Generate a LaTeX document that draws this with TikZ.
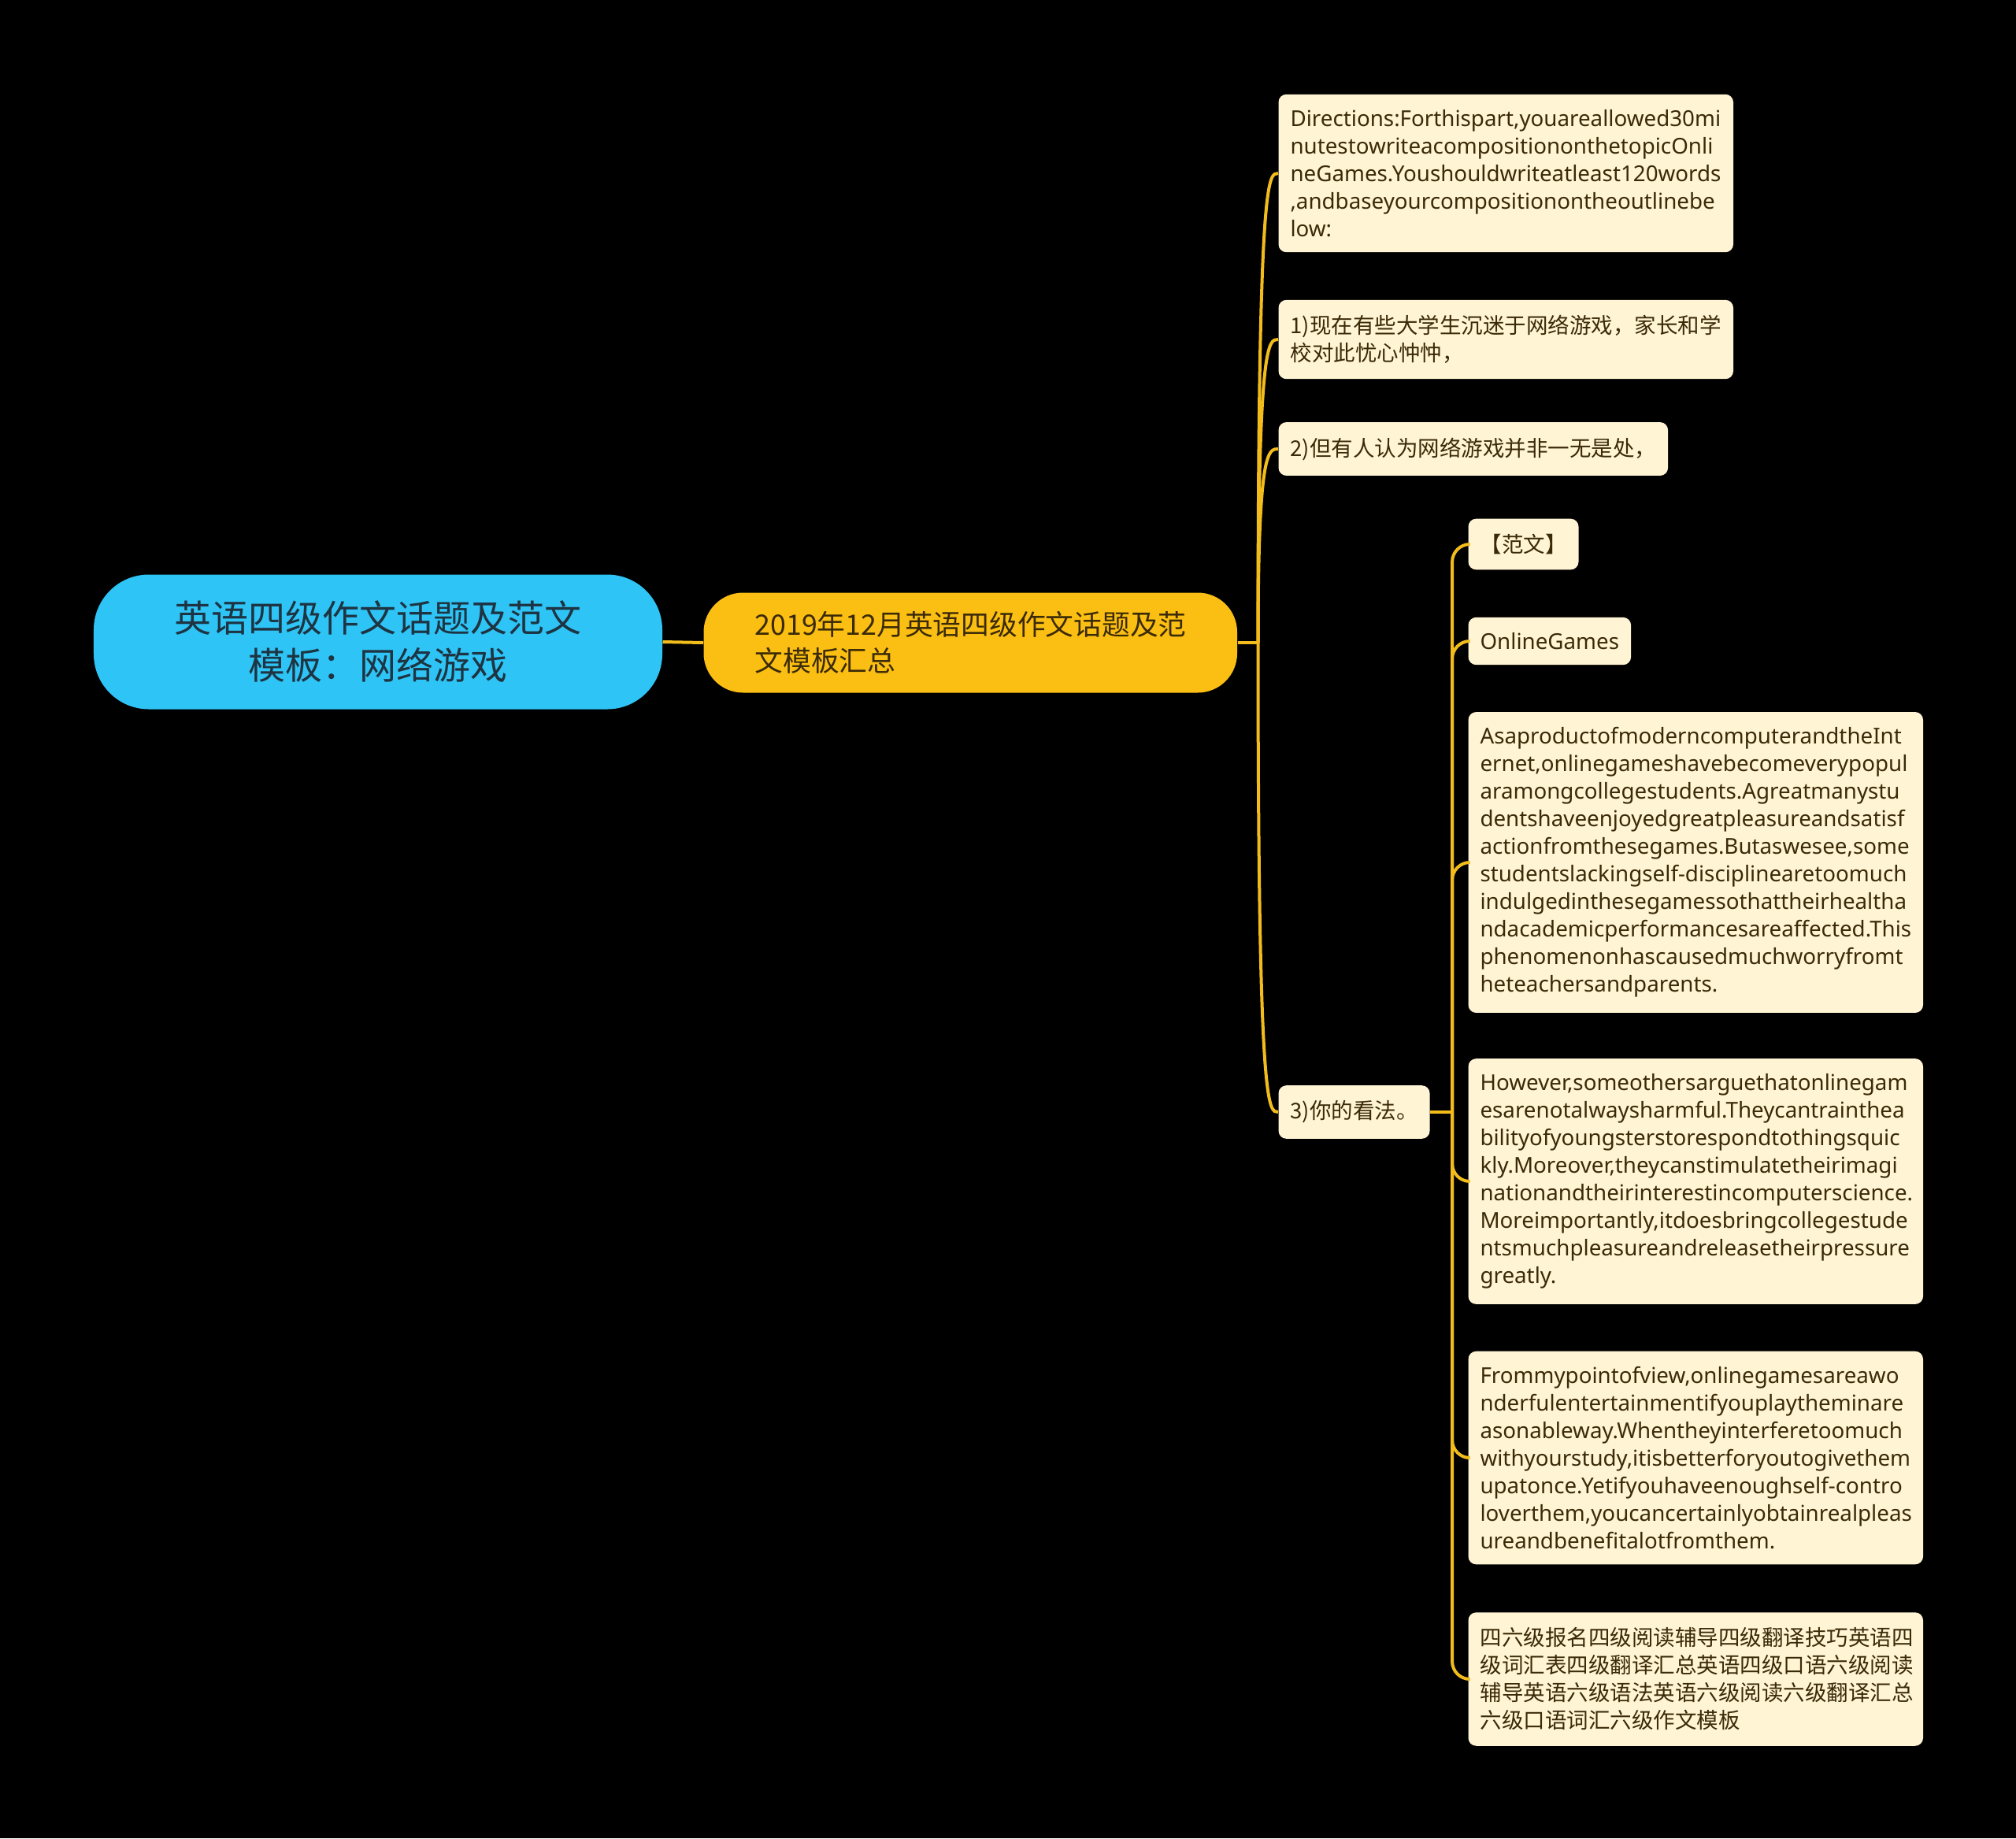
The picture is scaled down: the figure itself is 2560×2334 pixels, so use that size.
\documentclass[tikz,border=0pt]{standalone}
\usepackage{fontspec}
\setmainfont{Noto Sans}
\newfontfamily\cjk{Noto Sans CJK SC}
\usetikzlibrary{positioning,calc}
\hyphenpenalty=10000
\exhyphenpenalty=10000
\definecolor{rootblue}{RGB}{46,196,245}
\definecolor{subgold}{RGB}{251,190,18}
\definecolor{leafcream}{RGB}{255,244,212}
\definecolor{linegold}{RGB}{242,188,28}
\definecolor{inkbrown}{RGB}{58,42,8}
\definecolor{inknavy}{RGB}{30,52,66}
\tikzset{
    rootnode/.style={fill=rootblue, text=inknavy, rounded corners=28pt,
        minimum width=288.8pt, minimum height=68.4pt, text width=220pt,
        align=center, font=\fontsize{18.8}{24}\selectfont\cjk},
    subnode/.style={fill=subgold, text=inkbrown, rounded corners=20pt,
        minimum height=50.8pt, text width=219pt, inner xsep=26pt,
        align=left, anchor=west, font=\fontsize{14.3}{18.4}\selectfont\cjk},
    leafnode/.style={fill=leafcream, text=inkbrown, rounded corners=4pt,
        inner xsep=6pt, inner ysep=7.8pt, align=left, anchor=west},
    cjkleaf/.style={leafnode, font=\fontsize{11}{14}\selectfont\cjk},
    enleaf/.style={leafnode, font=\fontsize{11.1}{14}\selectfont},
    wide/.style={text width=219pt},
    link/.style={draw=linegold, line width=1.6pt},
}
\begin{document}
\begin{tikzpicture}[x=0.4pt,y=-0.4pt]
                    % page
                    \fill[black] (0,0) rectangle (2560,2334);
                    \useasboundingbox (0,0) rectangle (2560,2334);

                    % root and first branch
                    \node[rootnode] (root) at (480,815) {英语四级作文话题及范文\\模板：网络游戏};
                    \node[subnode] (sum) at (893,816) {2019年12月英语四级作文话题及范\\文模板汇总};

                    % outline items
                    \node[enleaf, wide] (dir) at (1623,220) {Directions:Forthispart,youareallowed30mi\\nutestowriteacompositiononthetopicOnli\\neGames.Youshouldwriteatleast120words\\{},andbaseyourcompositionontheoutlinebe\\low:};
                    \node[cjkleaf, wide] (one) at (1623,431) {1)现在有些大学生沉迷于网络游戏，家长和学\\校对此忧心忡忡，};
                    \node[cjkleaf] (two) at (1623,570) {2)但有人认为网络游戏并非一无是处，};
                    \node[cjkleaf] (three) at (1623,1412) {3)你的看法。};

                    % sample essay
                    \node[cjkleaf] (fw) at (1864,691) {【范文】};
                    \node[enleaf] (title) at (1864,814) {OnlineGames};
                    \node[enleaf, wide] (pa) at (1864,1095) {AsaproductofmoderncomputerandtheInt\\ernet,onlinegameshavebecomeverypopul\\aramongcollegestudents.Agreatmanystu\\dentshaveenjoyedgreatpleasureandsatisf\\actionfromthesegames.Butaswesee,some\\studentslackingself-disciplinearetoomuch\\indulgedinthesegamessothattheirhealtha\\ndacademicperformancesareaffected.This\\phenomenonhascausedmuchworryfromt\\heteachersandparents.};
                    \node[enleaf, wide] (pb) at (1864,1500) {However,someothersarguethatonlinegam\\esarenotalwaysharmful.Theycantrainthea\\bilityofyoungsterstorespondtothingsquic\\kly.Moreover,theycanstimulatetheirimagi\\nationandtheirinterestincomputerscience.\\Moreimportantly,itdoesbringcollegestude\\ntsmuchpleasureandreleasetheirpressure\\greatly.};
                    \node[enleaf, wide] (pc) at (1864,1851) {Frommypointofview,onlinegamesareawo\\nderfulentertainmentifyouplaytheminare\\asonableway.Whentheyinterferetoomuch\\withyourstudy,itisbetterforyoutogivethem\\upatonce.Yetifyouhaveenoughself-contro\\loverthem,youcancertainlyobtainrealpleas\\ureandbenefitalotfromthem.};
                    \node[cjkleaf, wide] (links) at (1864,2132) {四六级报名四级阅读辅导四级翻译技巧英语四\\级词汇表四级翻译汇总英语四级口语六级阅读\\辅导英语六级语法英语六级阅读六级翻译汇总\\六级口语词汇六级作文模板};

                    % connectors
                    \draw[link] (root.east) -- (sum.west);
                    \coordinate (j1) at ([xshift=10.4pt]sum.east);
                    \draw[link] (sum.east) -- (j1);
                    \foreach \c in {dir,one,two,three}
                        \draw[link] (j1) .. controls (j1 |- \c.west) and ($(j1 |- \c.west)+(13,0)$) .. (\c.west);
                    \coordinate (j2) at ([xshift=11.2pt]three.east);
                    \draw[link] (three.east) -- (j2);
                    \foreach \c in {fw,title,pa,pb,pc,links}
                        \draw[link, rounded corners=9pt] (j2) |- (\c.west);
                \end{tikzpicture}
\end{document}
